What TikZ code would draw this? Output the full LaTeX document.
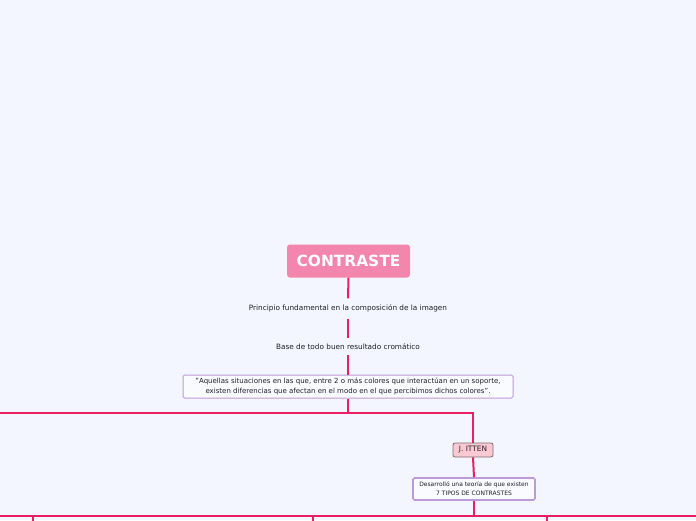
\documentclass[tikz,border=0pt]{standalone}
\usepackage{fontspec}
\setmainfont{DejaVu Sans}
\definecolor{bg}{HTML}{F3F6FE}
\definecolor{lnk}{HTML}{E91E63}
\definecolor{mainpink}{HTML}{F386AD}
\definecolor{boxpurple}{HTML}{BD9BD9}
\definecolor{ittenfill}{HTML}{FCC9D3}
\definecolor{ittenborder}{HTML}{7F6A6E}
\definecolor{txt}{HTML}{1E1E2A}
\begin{document}
\begin{tikzpicture}[x=1pt,y=1pt,
  link/.style={draw=lnk,line width=2pt},
  mainbox/.style={fill=mainpink,rounded corners=3pt,text=white,font=\fontsize{15.4}{18}\selectfont\bfseries,minimum width=123pt,minimum height=33pt,inner sep=0pt},
  plain/.style={text=txt,font=\fontsize{7.3}{8}\selectfont,inner sep=0pt},
  quotebox/.style={draw=boxpurple,line width=1pt,fill=white!60!bg,rounded corners=1.5pt,text=txt,font=\fontsize{7.0}{9.8}\selectfont,align=center,minimum width=330pt,minimum height=23pt,inner sep=0pt},
  ittenbox/.style={draw=ittenborder,line width=0.8pt,fill=ittenfill,rounded corners=2pt,text=txt,font=\fontsize{7.4}{8}\selectfont,minimum width=40pt,minimum height=14pt,inner sep=0pt},
  desbox/.style={draw=boxpurple,line width=1.6pt,fill=white!60!bg,rounded corners=1.5pt,text=txt,font=\fontsize{6.0}{9}\selectfont,align=center,minimum width=122pt,minimum height=22pt,inner sep=0pt}
]
\fill[bg] (0,0) rectangle (696,-520);
\useasboundingbox (0,0) rectangle (696,-520);

\node[mainbox] (main) at (348.5,-261) {CONTRASTE};
\node[plain,minimum height=20pt] (p1) at (348,-308.5) {Principio fundamental en la composición de la imagen};
\node[plain,minimum height=16pt] (p2) at (348,-346.5) {Base de todo buen resultado cromático};
\node[quotebox] (q) at (348,-386.5) {"Aquellas situaciones en las que, entre 2 o más colores que interactúan en un soporte,\\existen diferencias que afectan en el modo en el que percibimos dichos colores".};
\node[ittenbox] (it) at (473,-450) {J. ITTEN};
\node[desbox] (d) at (474,-489) {Desarrolló una teoría de que existen\\7 TIPOS DE CONTRASTES};

\coordinate (L0) at (0,-413);
\coordinate (L1) at (473,-413);
\coordinate (B0) at (0,-516);
\coordinate (B1) at (696,-516);
\coordinate (s1) at (33,-516);
\coordinate (s1e) at (33,-521);
\coordinate (s2) at (313,-516);
\coordinate (s2e) at (313,-521);
\coordinate (s3) at (547,-516);
\coordinate (s3e) at (547,-521);

\draw[link] (main.south) -- (p1.north);
\draw[link] (p1.south) -- (p2.north);
\draw[link] (p2.south) -- (q.north);
\draw[link] (q.south) -- (q.south |- L0);
\draw[link] (L0) -- (L1) -- (it.north);
\draw[link] (it.south) -- (d.north);
\draw[link] (d.south) -- (d.south |- B0);
\draw[link] (B0) -- (B1);
\draw[link] (s1) -- (s1e);
\draw[link] (s2) -- (s2e);
\draw[link] (s3) -- (s3e);
\end{tikzpicture}
\end{document}
